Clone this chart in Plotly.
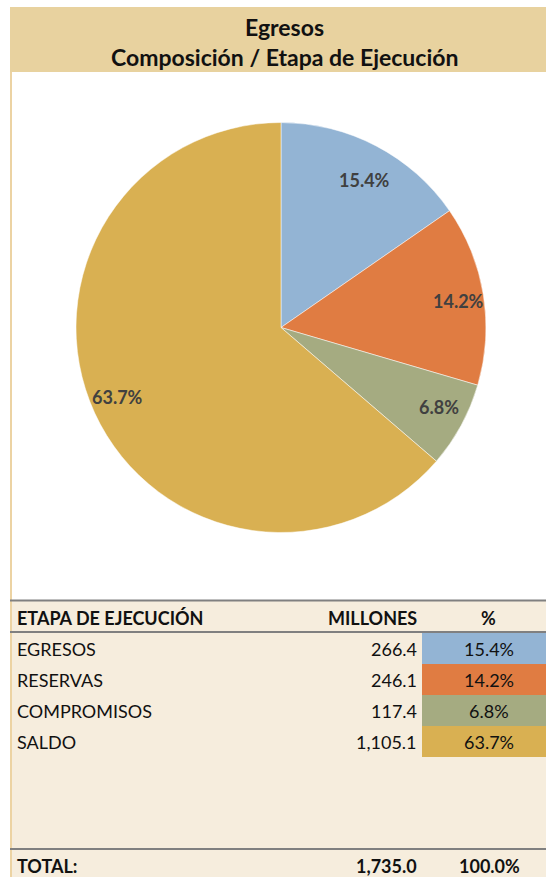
import math
import plotly.graph_objects as go

# ---- data ----
etapas = ["EGRESOS", "RESERVAS", "COMPROMISOS", "SALDO"]
millones = [266.4, 246.1, 117.4, 1105.1]
porcentajes = ["15.4%", "14.2%", "6.8%", "63.7%"]
total_millones = "1,735.0"
total_pct = "100.0%"
colores = ["#93b4d4", "#e07c42", "#a5ab81", "#d9b052"]

W, H = 546, 877
FONT = "Lato, Carlito, Calibri, sans-serif"
TXT = "#111111"


def px(x):
    return x / W


def py(y):
    return 1 - y / H


fig = go.Figure()

# pie
cx, cy, r = 281, 327.5, 205
fig.add_trace(go.Pie(
    labels=etapas,
    values=millones,
    sort=False,
    direction="clockwise",
    rotation=0,
    marker=dict(colors=colores, line=dict(color="white", width=0.5)),
    textinfo="none",
    showlegend=False,
    hoverinfo="label+value+percent",
    domain=dict(x=[px(cx - r), px(cx + r)], y=[py(cy + r), py(cy - r)]),
))

annotations = []
# slice labels, placed along each slice's mid-angle
total = sum(millones)
cum = 0.0
lrx, lry = 0.85 * 212, 0.85 * 196.5
for v in millones:
    frac = v / total
    theta = 2 * math.pi * (cum + frac / 2)
    cum += frac
    lx = cx + lrx * math.sin(theta)
    ly = cy - lry * math.cos(theta)
    annotations.append(dict(text=f"<b>{frac * 100:.1f}%</b>", x=px(lx), y=py(ly),
                            xref="paper", yref="paper", showarrow=False,
                            xanchor="center", yanchor="middle",
                            font=dict(family=FONT, size=18, color="#404040")))

shapes = []
# title band
shapes.append(dict(type="rect", xref="paper", yref="paper", x0=px(10), x1=px(546),
                   y0=py(72), y1=py(7), fillcolor="#e8d29f", line=dict(width=0), layer="below"))
# cream table area
shapes.append(dict(type="rect", xref="paper", yref="paper", x0=px(12), x1=px(546),
                   y0=py(877), y1=py(601), fillcolor="#f6eddd", line=dict(width=0), layer="below"))
# left border
shapes.append(dict(type="rect", xref="paper", yref="paper", x0=px(10), x1=px(12),
                   y0=py(877), y1=py(72), fillcolor="#ecd3a3", line=dict(width=0), layer="below"))
# gray rules
for yy in [600.5, 632, 849]:
    shapes.append(dict(type="line", xref="paper", yref="paper", x0=px(10), x1=px(546),
                       y0=py(yy), y1=py(yy), line=dict(color="#808080", width=2)))

annotations.append(dict(text="<b>Egresos</b>", x=px(284), y=py(27), xref="paper", yref="paper",
                        showarrow=False, font=dict(family=FONT, size=23, color=TXT),
                        xanchor="center", yanchor="middle"))
annotations.append(dict(text="<b>Composición / Etapa de Ejecución</b>", x=px(284), y=py(57),
                        xref="paper", yref="paper", showarrow=False,
                        font=dict(family=FONT, size=23, color=TXT),
                        xanchor="center", yanchor="middle"))

FS = 18
# header row
hy = 618
annotations.append(dict(text="<b>ETAPA DE EJECUCIÓN</b>", x=px(15), y=py(hy), xref="paper", yref="paper",
                        showarrow=False, xanchor="left", yanchor="middle",
                        font=dict(family=FONT, size=FS, color=TXT)))
annotations.append(dict(text="<b>MILLONES</b>", x=px(419), y=py(hy), xref="paper", yref="paper",
                        showarrow=False, xanchor="right", yanchor="middle",
                        font=dict(family=FONT, size=FS, color=TXT)))
annotations.append(dict(text="<b>%</b>", x=px(488), y=py(hy), xref="paper", yref="paper",
                        showarrow=False, xanchor="center", yanchor="middle",
                        font=dict(family=FONT, size=FS, color=TXT)))

row_top = 633
row_h = 31
for i, (et, m, p, c) in enumerate(zip(etapas, millones, porcentajes, colores)):
    y0 = row_top + i * row_h
    ym = y0 + row_h / 2
    shapes.append(dict(type="rect", xref="paper", yref="paper", x0=px(422), x1=px(546),
                       y0=py(y0 + row_h), y1=py(y0), fillcolor=c, line=dict(width=0), layer="below"))
    annotations.append(dict(text=et, x=px(15), y=py(ym), xref="paper", yref="paper",
                            showarrow=False, xanchor="left", yanchor="middle",
                            font=dict(family=FONT, size=FS, color=TXT)))
    annotations.append(dict(text=f"{m:,.1f}", x=px(419), y=py(ym), xref="paper", yref="paper",
                            showarrow=False, xanchor="right", yanchor="middle",
                            font=dict(family=FONT, size=FS, color=TXT)))
    annotations.append(dict(text=p, x=px(489), y=py(ym), xref="paper", yref="paper",
                            showarrow=False, xanchor="center", yanchor="middle",
                            font=dict(family=FONT, size=FS, color=TXT)))

# total row
ty = 866
annotations.append(dict(text="<b>TOTAL:</b>", x=px(15), y=py(ty), xref="paper", yref="paper",
                        showarrow=False, xanchor="left", yanchor="middle",
                        font=dict(family=FONT, size=FS, color=TXT)))
annotations.append(dict(text=f"<b>{total_millones}</b>", x=px(419), y=py(ty), xref="paper", yref="paper",
                        showarrow=False, xanchor="right", yanchor="middle",
                        font=dict(family=FONT, size=FS, color=TXT)))
annotations.append(dict(text=f"<b>{total_pct}</b>", x=px(489), y=py(ty), xref="paper", yref="paper",
                        showarrow=False, xanchor="center", yanchor="middle",
                        font=dict(family=FONT, size=FS, color=TXT)))

fig.update_layout(
    width=W, height=H,
    margin=dict(l=0, r=0, t=0, b=0),
    paper_bgcolor="white",
    plot_bgcolor="white",
    shapes=shapes,
    annotations=annotations,
)

fig.write_html(
    "out.html",
    config={"displayModeBar": False},
    post_script="document.body.style.margin='0';document.body.style.padding='0';"
                "document.body.style.overflow='hidden';",
)
